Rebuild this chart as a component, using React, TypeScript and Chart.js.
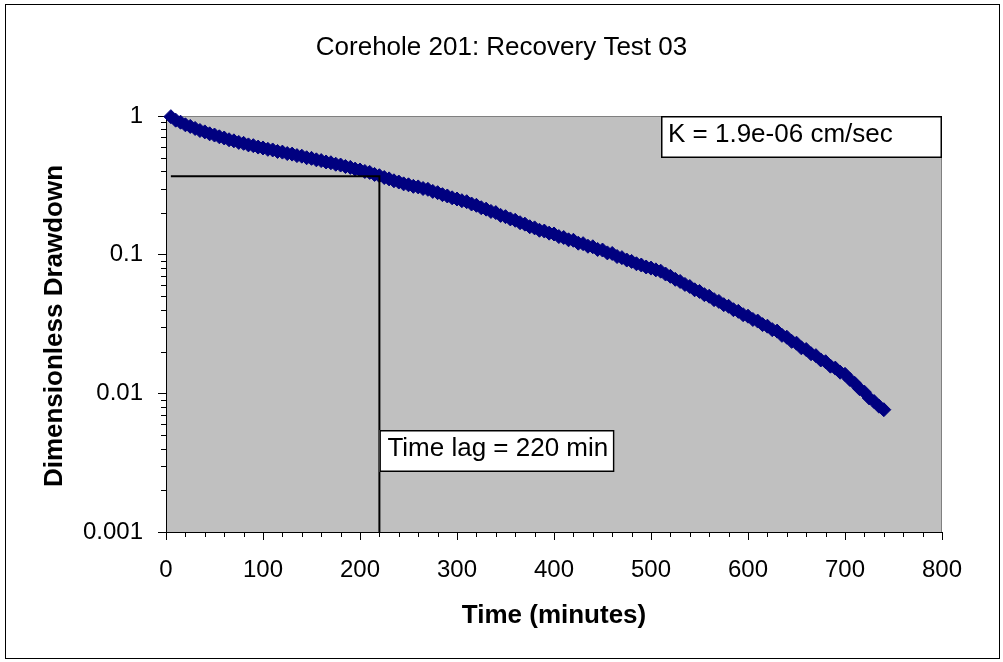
import React, { useEffect, useRef } from 'react';
import { Chart, registerables } from 'chart.js';

Chart.register(...registerables);

const chartTitle = 'Corehole 201: Recovery Test 03';
const xAxisTitle = 'Time (minutes)';
const yAxisTitle = 'Dimensionless Drawdown';
const kLabel = 'K = 1.9e-06 cm/sec';
const lagLabel = 'Time lag = 220 min';

const timeMinutes = [
  5, 10, 15, 20, 25, 30, 35, 40, 45, 50, 55, 60, 65, 70, 75, 80, 85, 90, 95, 100,
  105, 110, 115, 120, 125, 130, 135, 140, 145, 150, 155, 160, 165, 170, 175, 180, 185, 190, 195, 200,
  205, 210, 215, 220, 225, 230, 235, 240, 245, 250, 255, 260, 265, 270, 275, 280, 285, 290, 295, 300,
  305, 310, 315, 320, 325, 330, 335, 340, 345, 350, 355, 360, 365, 370, 375, 380, 385, 390, 395, 400,
  405, 410, 415, 420, 425, 430, 435, 440, 445, 450, 455, 460, 465, 470, 475, 480, 485, 490, 495, 500,
  505, 510, 515, 520, 525, 530, 535, 540, 545, 550, 555, 560, 565, 570, 575, 580, 585, 590, 595, 600,
  605, 610, 615, 620, 625, 630, 635, 640, 645, 650, 655, 660, 665, 670, 675, 680, 685, 690, 695, 700,
  705, 710, 715, 720, 725, 730, 735, 740,
];

const drawdown = [
  0.989, 0.933, 0.902, 0.864, 0.841, 0.813, 0.786, 0.768, 0.744, 0.729, 0.708, 0.694, 0.674, 0.662, 0.645, 0.635, 0.619, 0.611, 0.597, 0.588,
  0.575, 0.569, 0.555, 0.549, 0.536, 0.531, 0.518, 0.513, 0.500, 0.495, 0.483, 0.477, 0.466, 0.460, 0.449, 0.443, 0.432, 0.426, 0.414, 0.408,
  0.398, 0.392, 0.379, 0.371, 0.360, 0.352, 0.341, 0.334, 0.324, 0.319, 0.311, 0.308, 0.300, 0.296, 0.286, 0.280, 0.271, 0.265, 0.257, 0.252,
  0.245, 0.241, 0.232, 0.227, 0.218, 0.213, 0.205, 0.201, 0.192, 0.188, 0.181, 0.177, 0.170, 0.166, 0.159, 0.156, 0.150, 0.148, 0.143, 0.141,
  0.135, 0.133, 0.128, 0.127, 0.121, 0.120, 0.115, 0.114, 0.109, 0.108, 0.103, 0.102, 0.0970, 0.0952, 0.0915, 0.0894, 0.0860, 0.0842, 0.0815, 0.0800,
  0.0777, 0.0760, 0.0725, 0.0698, 0.0664, 0.0641, 0.0610, 0.0589, 0.0558, 0.0543, 0.0515, 0.0501, 0.0474, 0.0460, 0.0436, 0.0424, 0.0401, 0.0390, 0.0369, 0.0360,
  0.0341, 0.0332, 0.0313, 0.0305, 0.0288, 0.0281, 0.0262, 0.0254, 0.0237, 0.0230, 0.0213, 0.0207, 0.0193, 0.0187, 0.0174, 0.0169, 0.0157, 0.0152, 0.0142, 0.0137,
  0.0126, 0.0118, 0.0108, 0.0102, 0.00925, 0.00872, 0.00808, 0.00762,
];

const xTickValues = [0, 100, 200, 300, 400, 500, 600, 700, 800];
const yTickValues = [0.001, 0.01, 0.1, 1];
const yTickLabels = ['0.001', '0.01', '0.1', '1'];

const lagLineX = [5, 220, 220];
const lagLineY = [0.368, 0.368, 0.001];

const FONT_FAMILY = '"Liberation Sans", Arial, Helvetica, sans-serif';

const decorPlugin = {
  id: 'excelDecor',
  beforeDraw(chart: any) {
    const { ctx, chartArea, width, height } = chart;
    ctx.save();
    ctx.fillStyle = '#ffffff';
    ctx.fillRect(0, 0, width, height);
    ctx.strokeStyle = '#000000';
    ctx.lineWidth = 1;
    ctx.strokeRect(5.5, 4.5, width - 9, height - 8);
    ctx.fillStyle = '#c0c0c0';
    ctx.fillRect(chartArea.left, chartArea.top, chartArea.right - chartArea.left, chartArea.bottom - chartArea.top);
    ctx.strokeStyle = '#808080';
    ctx.strokeRect(chartArea.left + 0.5, chartArea.top + 0.5, chartArea.right - chartArea.left - 1, chartArea.bottom - chartArea.top);
    ctx.restore();
  },
  afterDatasetsDraw(chart: any) {
    const { ctx, chartArea } = chart;
    const xs = chart.scales.x;
    const ys = chart.scales.y;
    ctx.save();
    ctx.strokeStyle = '#000000';
    ctx.lineWidth = 1;
    ctx.beginPath();
    for (let v = 20; v < 800; v += 20) {
      if (v % 100 === 0) continue;
      const px = Math.round(xs.getPixelForValue(v)) + 0.5;
      ctx.moveTo(px, chartArea.bottom);
      ctx.lineTo(px, chartArea.bottom + 5);
    }
    for (let d = 0.001; d < 0.5; d *= 10) {
      for (let k = 2; k <= 9; k++) {
        const py = Math.round(ys.getPixelForValue(k * d)) + 0.5;
        ctx.moveTo(chartArea.left - 5, py);
        ctx.lineTo(chartArea.left, py);
      }
    }
    ctx.stroke();

    // annotation boxes
    ctx.font = `26px ${FONT_FAMILY}`;
    ctx.textAlign = 'left';
    ctx.textBaseline = 'alphabetic';
    // K box
    const kx = chartArea.right - 281;
    const ky = chartArea.top;
    ctx.fillStyle = '#ffffff';
    ctx.fillRect(kx, ky, 281, 42);
    ctx.lineWidth = 1.5;
    ctx.strokeStyle = '#000000';
    ctx.strokeRect(kx + 0.75, ky + 0.75, 279.5, 40.5);
    ctx.fillStyle = '#000000';
    ctx.fillText(kLabel, kx + 7, ky + 26);
    // lag box
    const lx = xs.getPixelForValue(lagLineX[1]);
    const lyTop = chartArea.bottom - 102;
    ctx.fillStyle = '#ffffff';
    ctx.fillRect(lx, lyTop, 235, 42);
    ctx.strokeRect(lx + 0.75, lyTop + 0.75, 233.5, 40.5);
    ctx.fillStyle = '#000000';
    ctx.fillText(lagLabel, lx + 8, lyTop + 26);
    ctx.restore();
  },
  afterDraw(chart: any) {
    const { ctx, chartArea, width } = chart;
    ctx.save();
    ctx.fillStyle = '#000000';
    ctx.textAlign = 'center';
    ctx.textBaseline = 'alphabetic';
    ctx.font = `26px ${FONT_FAMILY}`;
    ctx.fillText(chartTitle, width / 2, 55);
    ctx.font = `bold 26px ${FONT_FAMILY}`;
    const cx = (chartArea.left + chartArea.right) / 2;
    ctx.fillText(xAxisTitle, cx, 623);
    ctx.translate(62, (chartArea.top + chartArea.bottom) / 2 + 2);
    ctx.rotate(-Math.PI / 2);
    ctx.fillText(yAxisTitle, 0, 0);
    ctx.restore();
  },
};

export default function App() {
  const canvasRef = useRef<HTMLCanvasElement | null>(null);

  useEffect(() => {
    const canvas = canvasRef.current;
    if (!canvas) return;
    const tickFont = { family: FONT_FAMILY, size: 24 };
    const chart = new Chart(canvas, {
      type: 'scatter',
      data: {
        datasets: [
          {
            type: 'line',
            data: lagLineX.map((x, i) => ({ x, y: lagLineY[i] })),
            borderColor: '#000000',
            borderWidth: 2,
            pointRadius: 0,
            fill: false,
            tension: 0,
            order: 1,
          } as any,
          {
            type: 'scatter',
            data: timeMinutes.map((x, i) => ({ x, y: drawdown[i] })),
            pointStyle: 'rectRot',
            pointRadius: 7,
            pointHoverRadius: 7,
            backgroundColor: '#000080',
            borderColor: '#000080',
            borderWidth: 1,
            clip: false,
            order: 2,
          } as any,
        ],
      },
      options: {
        animation: false,
        responsive: false,
        devicePixelRatio: 1,
        events: [],
        layout: { padding: { left: 0, top: 116, right: 61, bottom: 0 } },
        plugins: {
          legend: { display: false },
          tooltip: { enabled: false },
          title: { display: false },
        },
        scales: {
          x: {
            type: 'linear',
            position: 'bottom',
            min: 0,
            max: 800,
            afterBuildTicks: (s: any) => {
              s.ticks = xTickValues.map((v) => ({ value: v }));
            },
            afterFit: (s: any) => {
              s.height = 130;
            },
            ticks: {
              font: tickFont,
              color: '#000000',
              padding: 16,
              autoSkip: false,
              maxRotation: 0,
              callback: (v: any) => String(v),
            },
            grid: {
              drawOnChartArea: false,
              drawTicks: true,
              tickLength: 8,
              color: '#000000',
              tickColor: '#000000',
            },
            border: { display: true, color: '#000000', width: 1 },
          },
          y: {
            type: 'logarithmic',
            position: 'left',
            min: 0.001,
            max: 1,
            afterBuildTicks: (s: any) => {
              s.ticks = yTickValues.map((v) => ({ value: v }));
            },
            afterFit: (s: any) => {
              s.width = 166;
            },
            ticks: {
              font: tickFont,
              color: '#000000',
              padding: 15,
              autoSkip: false,
              callback: (v: any) => {
                const idx = yTickValues.findIndex((t) => Math.abs(Math.log10(t) - Math.log10(Number(v))) < 1e-6);
                return idx >= 0 ? yTickLabels[idx] : '';
              },
            },
            grid: {
              drawOnChartArea: false,
              drawTicks: true,
              tickLength: 8,
              color: '#000000',
              tickColor: '#000000',
            },
            border: { display: true, color: '#000000', width: 1 },
          },
        },
      },
      plugins: [decorPlugin],
    } as any);
    return () => chart.destroy();
  }, []);

  return (
    <div style={{ position: 'absolute', left: 0, top: 0, width: 1003, height: 662, background: '#ffffff' }}>
      <canvas ref={canvasRef} width={1003} height={662} style={{ display: 'block', width: 1003, height: 662 }} />
    </div>
  );
}
